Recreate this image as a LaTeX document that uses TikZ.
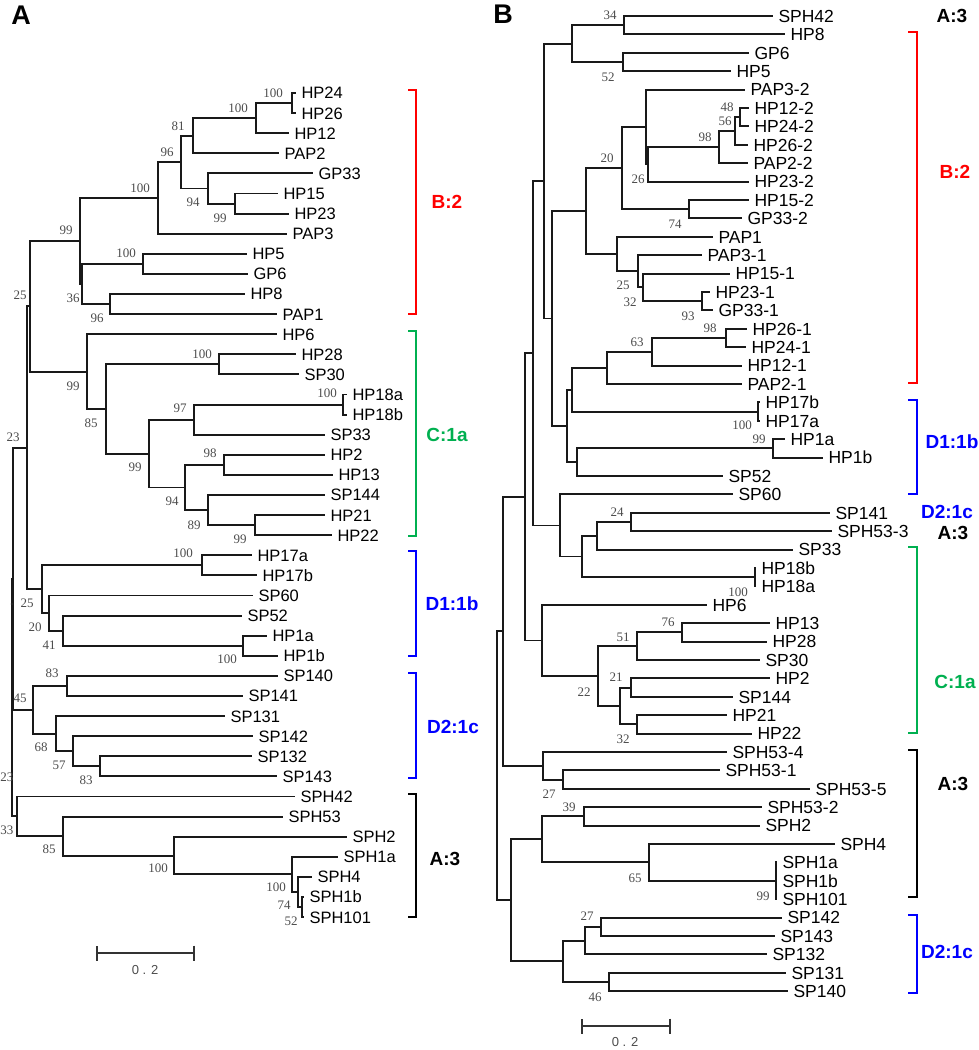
\documentclass[tikz,border=0pt]{standalone}
\usepackage{fontspec}
\usepackage{xcolor}
\usepackage{tikz}
\usetikzlibrary{arrows.meta}
\setmainfont{Liberation Sans}
\newfontfamily\bootfont{Liberation Serif}

\definecolor{cladered}{RGB}{255,0,0}
\definecolor{cladegreen}{RGB}{0,176,80}
\definecolor{cladeblue}{RGB}{0,0,255}

\tikzset{
  branch/.style={line width=1.9pt, black!90},
  leafA/.style={anchor=west, inner xsep=5.5pt, inner ysep=0pt, outer sep=0pt,
    text height=11.8pt, text depth=0pt, font=\fontsize{16.5}{16.5}\selectfont},
  leafB/.style={anchor=west, inner xsep=5.5pt, inner ysep=0pt, outer sep=0pt,
    text height=12.5pt, text depth=0pt, font=\fontsize{17.5}{17.5}\selectfont},
  boot/.style={inner sep=0pt, text=black!70, font=\bootfont\fontsize{13}{13}\selectfont},
  bracket/.style={line width=2.5pt},
  cladelab/.style={inner sep=0pt, font=\fontsize{19}{19}\selectfont\bfseries},
  panel/.style={inner sep=0pt, font=\fontsize{27}{27}\selectfont\bfseries},
  scalebar/.style={line width=1.8pt, black!80, {Bar[width=15pt]}-{Bar[width=15pt]}},
  scalelab/.style={inner sep=0pt, text=black!70, font=\fontsize{13}{13}\selectfont},
}

% internal node: name, x, y, children
\newcommand{\clade}[4]{%
  \coordinate (#1) at (#2,#3);
  \foreach \c in {#4} {\draw[branch] (#1) |- (\c);}%
}

\begin{document}
\begin{tikzpicture}[x=1pt, y=-1pt]
\useasboundingbox (0,0) rectangle (978,1050);

% ---------------- Panel A ----------------
\node[panel] (pA) at (21,15) {A};

% Leaves
\foreach \t/\x [count=\i] in {HP24/296, HP26/296, HP12/289, PAP2/279, GP33/313,
    HP15/278, HP23/289, PAP3/287, HP5/247, GP6/248, HP8/245, PAP1/277,
    HP6/277, HP28/296, SP30/299, HP18a/347, HP18b/347, SP33/325, HP2/325,
    HP13/333, SP144/325, HP21/325, HP22/332, HP17a/252, HP17b/257, SP60/253,
    SP52/242, HP1a/267, HP1b/278, SP140/278, SP141/243, SP131/225, SP142/253,
    SP132/252, SP143/277, SPH42/295, SPH53/283, SPH2/347, SPH1a/338, SPH4/312,
    SPH1b/304, SPH101/304}
  \node[leafA] (a\i) at (\x, {93+20.1*(\i-1)}) {\t};

% Clade B:2
\clade{an1}{292}{103.05}{a1,a2}
\clade{an2}{256}{118.1}{an1,a3}
\clade{an3}{193}{135.7}{an2,a4}
\clade{an4}{235}{203.55}{a6,a7}
\clade{an5}{208}{188.5}{a5,an4}
\clade{an6}{181}{162.1}{an3,an5}
\clade{an7}{158}{197.9}{an6,a8}
\clade{an8}{143}{263.85}{a9,a10}
\clade{an9}{110}{304.05}{a11,a12}
\clade{an10}{82}{283.95}{an8,an9}
\clade{an11}{80}{240.9}{an7,an10}

% Clade C:1a
\clade{ac1}{219}{364.35}{a14,a15}
\clade{ac2}{343}{404.55}{a16,a17}
\clade{ac3}{194}{419.6}{ac2,a18}
\clade{ac4}{224}{464.85}{a19,a20}
\clade{ac5}{255}{525.15}{a22,a23}
\clade{ac6}{208}{510.1}{a21,ac5}
\clade{ac7}{185}{487.5}{ac4,ac6}
\clade{ac8}{149}{453.55}{ac3,ac7}
\clade{ac9}{106}{408.95}{ac1,ac8}
\clade{ac10}{87}{371.6}{a13,ac9}
\clade{ar1}{30}{306.25}{an11,ac10}

% Clade D1:1b
\clade{ad1}{202}{565.35}{a24,a25}
\clade{ad2}{243}{645.75}{a28,a29}
\clade{ad3}{63}{630.7}{a27,ad2}
\clade{ad4}{49}{613.1}{a26,ad3}
\clade{ad5}{42}{589.2}{ad1,ad4}
\clade{ar2}{27}{447.7}{ar1,ad5}

% Clade D2:1c
\clade{ae1}{67}{685.95}{a30,a31}
\clade{ae2}{100}{766.35}{a34,a35}
\clade{ae3}{73}{751.3}{a33,ae2}
\clade{ae4}{56}{733.7}{a32,ae3}
\clade{ae5}{33}{709.8}{ae1,ae4}

% Clade A:3
\clade{af1}{302}{907.05}{a41,a42}
\clade{af2}{298}{891.95}{a40,af1}
\clade{af3}{292}{874.4}{a39,af2}
\clade{af4}{174}{855.55}{a38,af3}
\clade{af5}{63}{836.1}{a37,af4}
\clade{af6}{17}{816.3}{a36,af5}

% Root
\clade{ar3}{13}{578.75}{ar2,ae5}
\clade{ar4}{12}{697.5}{ar3,af6}
\fill[black!85] (12,604) circle (1.3);

% Bootstrap values
\foreach \x/\y/\v [count=\i] in {273/93/100, 238/108/100, 178/126/81, 167/152/96,
    140/188/100, 193/202/94, 220/218/99, 66/230/99, 126/253/100, 73/298/36,
    97/318/96, 20/295/25, 73/386/99, 91/423/85, 202/354/100, 135/467/99,
    180/408/97, 327/393/100, 172/501/94, 210/453/98, 194/525/89, 240/539/99,
    13/437/23, 27/603/25, 183/553/100, 35/627/20, 49/645/41, 227/659/100,
    52/673/83, 20/698/45, 41/747/68, 59/765/57, 86/780/83, 7/777/23, 7/830/33,
    49/849/85, 158/868/100, 276/887/100, 284/905/74, 291/921/52}
  \node[boot] (ba\i) at (\x,\y) {\v};

% Brackets
\draw[bracket, cladered] (408,90) -- (416,90) -- (416,314) -- (408,314);
\draw[bracket, cladegreen] (408,331) -- (416,331) -- (416,536) -- (408,536);
\draw[bracket, cladeblue] (408,551) -- (416,551) -- (416,656) -- (408,656);
\draw[bracket, cladeblue] (408,673) -- (416,673) -- (416,778) -- (408,778);
\draw[bracket, black] (408,794) -- (416,794) -- (416,917) -- (408,917);
\node[cladelab, cladered] (laB) at (447,202) {B:2};
\node[cladelab, cladegreen] (laC) at (447,435) {C:1a};
\node[cladelab, cladeblue] (laD1) at (452,604) {D1:1b};
\node[cladelab, cladeblue] (laD2) at (453,727) {D2:1c};
\node[cladelab, black] (laA) at (445,859) {A:3};

% Scale bar
\coordinate (sa1) at (96,953);
\coordinate (sa2) at (195,953);
\draw[scalebar] (sa1) -- (sa2);
\node[scalelab] (sal) at (145,970) {0 . 2};

% ---------------- Panel B ----------------
\node[panel] (pB) at (503,14) {B};

% Leaves
\foreach \t/\x [count=\i] in {SPH42/773, HP8/785, GP6/749, HP5/731, PAP3-2/745,
    HP12-2/749, HP24-2/749, HP26-2/748, PAP2-2/748, HP23-2/749, HP15-2/749,
    GP33-2/742, PAP1/713, PAP3-1/702, HP15-1/730, HP23-1/710, GP33-1/713,
    HP26-1/747, HP24-1/746, HP12-1/742, PAP2-1/742, HP17b/760, HP17a/760,
    HP1a/785, HP1b/823, SP52/723, SP60/733, SP141/830, SPH53-3/832, SP33/793,
    HP18b/756, HP18a/756, HP6/707, HP13/770, HP28/767, SP30/760, HP2/770,
    SP144/733, HP21/727, HP22/752, SPH53-4/727, SPH53-1/720, SPH53-5/810,
    SPH53-2/762, SPH2/760, SPH4/835, SPH1a/777, SPH1b/777, SPH101/777,
    SP142/782, SP143/775, SP132/767, SP131/786, SP140/788}
  \node[leafB] (b\i) at (\x, {16+18.4*(\i-1)}) {\t};

% Upper part (A:3 / B:2)
\clade{bn1}{624}{25.2}{b1,b2}
\clade{bn2}{623}{62}{b3,b4}
\clade{bn3}{572}{43.6}{bn1,bn2}
\clade{bn4}{740}{117.2}{b6,b7}
\clade{bn5}{735}{131}{bn4,b8}
\clade{bn6}{719}{147.1}{bn5,b9}
\clade{bn7}{648}{164.35}{bn6,b10}
\clade{bn8}{646}{126.98}{b5,bn7}
\clade{bn9}{689}{209.2}{b11,b12}
\clade{bn10}{622}{168.1}{bn8,bn9}
\clade{bn11}{702}{301.2}{b16,b17}
\clade{bn12}{643}{287.4}{b15,bn11}
\clade{bn13}{638}{271.3}{b14,bn12}
\clade{bn14}{617}{254.05}{b13,bn13}
\clade{bn15}{586}{211.08}{bn10,bn14}
\clade{bn16}{726}{338}{b18,b19}
\clade{bn17}{652}{351.8}{bn16,b20}
\clade{bn18}{607}{367.9}{bn17,b21}

% D1:1b
\clade{bn19}{758}{411.6}{b22,b23}
\clade{bn20}{572}{389.75}{bn18,bn19}
\clade{bn21}{773}{448.4}{b24,b25}
\clade{bn22}{577}{462.2}{bn21,b26}
\clade{bn23}{567}{425.98}{bn20,bn22}
\clade{bn24}{552}{318.53}{bn15,bn23}
\clade{bn25}{544}{181.07}{bn3,bn24}

% SP60 / SP141 / SP33 / HP18
\clade{bn26}{631}{522}{b28,b29}
\clade{bn27}{597}{535.8}{bn26,b30}
\clade{bn28}{755}{577.2}{b31,b32}
\clade{bn29}{582}{556.5}{bn27,bn28}
\clade{bn30}{560}{525.45}{b27,bn29}
\clade{bn31}{533}{353.26}{bn25,bn30}

% C:1a
\clade{bn32}{682}{632.4}{b34,b35}
\clade{bn33}{637}{646.2}{bn32,b36}
\clade{bn34}{631}{687.6}{b37,b38}
\clade{bn35}{637}{724.4}{b39,b40}
\clade{bn36}{620}{706}{bn34,bn35}
\clade{bn37}{598}{676.1}{bn33,bn36}
\clade{bn38}{542}{640.45}{b33,bn37}
\clade{bn39}{525}{496.86}{bn31,bn38}

% A:3
\clade{bn40}{563}{779.6}{b42,b43}
\clade{bn41}{543}{765.8}{b41,bn40}
\clade{bn42}{503}{631.33}{bn39,bn41}
\clade{bn43}{584}{816.4}{b44,b45}
\clade{bn44}{776}{880.8}{b47,b48,b49}
\clade{bn45}{649}{862.4}{b46,bn44}
\clade{bn46}{542}{839.4}{bn43,bn45}

% D2:1c
\clade{bn47}{601}{926.8}{b50,b51}
\clade{bn48}{585}{940.6}{bn47,b52}
\clade{bn49}{609}{982}{b53,b54}
\clade{bn50}{563}{961.3}{bn48,bn49}
\clade{bn51}{511}{900.35}{bn46,bn50}

% Root
\clade{bn52}{497}{765.84}{bn42,bn51}

% Bootstrap values
\foreach \x/\y/\v [count=\i] in {610/15/34, 608/77/52, 727/107/48, 725/121/56,
    705/137/98, 607/158/20, 638/179/26, 675/224/74, 623/285/25, 630/302/32,
    688/316/93, 710/328/98, 637/342/63, 742/425/100, 759/439/99, 617/512/24,
    738/592/100, 668/622/76, 623/637/51, 616/677/21, 584/692/22, 623/739/32,
    549/794/27, 569/807/39, 635/878/65, 763/896/99, 587/916/27, 595/997/46}
  \node[boot] (bb\i) at (\x,\y) {\v};

% Brackets
\draw[bracket, cladered] (908,32) -- (917,32) -- (917,383) -- (908,383);
\draw[bracket, cladeblue] (908,400) -- (917,400) -- (917,494) -- (908,494);
\draw[bracket, cladegreen] (908,547) -- (917,547) -- (917,733) -- (908,733);
\draw[bracket, black] (908,750) -- (917,750) -- (917,897) -- (908,897);
\draw[bracket, cladeblue] (908,915) -- (917,915) -- (917,993) -- (908,993);
\node[cladelab, black] (lbA1) at (952,16) {A:3};
\node[cladelab, cladered] (lbB) at (955,172) {B:2};
\node[cladelab, cladeblue] (lbD1) at (952,442) {D1:1b};
\node[cladelab, cladeblue] (lbD2a) at (947,512) {D2:1c};
\node[cladelab, black] (lbA2) at (953,533) {A:3};
\node[cladelab, cladegreen] (lbC) at (955,682) {C:1a};
\node[cladelab, black] (lbA3) at (953,784) {A:3};
\node[cladelab, cladeblue] (lbD2b) at (947,952) {D2:1c};

% Scale bar
\coordinate (sb1) at (581,1026);
\coordinate (sb2) at (671,1026);
\draw[scalebar] (sb1) -- (sb2);
\node[scalelab] (sbl) at (625,1042) {0 . 2};

\end{tikzpicture}
\end{document}
